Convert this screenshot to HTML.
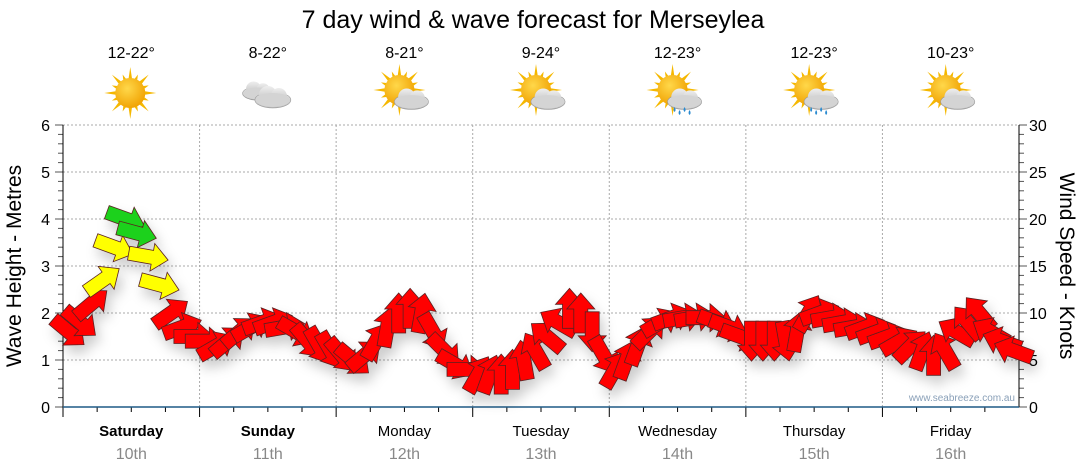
<!DOCTYPE html>
<html><head><meta charset="utf-8">
<style>
html,body{margin:0;padding:0;background:#fff;}
svg{display:block;font-family:"Liberation Sans","DejaVu Sans",sans-serif;}
</style></head>
<body>
<svg id="chart" width="1080" height="475" viewBox="0 0 1080 475" xmlns="http://www.w3.org/2000/svg">
<defs>
<radialGradient id="sunG" cx="0.4" cy="0.35" r="0.7"><stop offset="0" stop-color="#ffd84a"/><stop offset="1" stop-color="#f0a000"/></radialGradient>
<linearGradient id="cloudG" x1="0" y1="0" x2="0" y2="1"><stop offset="0" stop-color="#eeeeee"/><stop offset="1" stop-color="#b8b8b8"/></linearGradient>
<filter id="shadow" x="-50%" y="-50%" width="200%" height="200%"><feDropShadow dx="4" dy="8" stdDeviation="6" flood-color="#000" flood-opacity="0.2"/></filter>
</defs>
<text x="533" y="28" font-size="25" text-anchor="middle" fill="#000">7 day wind &amp; wave forecast for Merseylea</text>
<g id="grid"></g>
<g id="axes"></g>
<g id="icons"></g>
<g id="arrows" filter="url(#shadow)"></g>
<text x="1015" y="401" font-size="10" text-anchor="end" fill="#8aa0b8">www.seabreeze.com.au</text>
<text transform="translate(21,266) rotate(-90)" font-size="21" text-anchor="middle" fill="#000">Wave Height - Metres</text>
<text transform="translate(1060,266) rotate(90)" font-size="21" text-anchor="middle" fill="#000">Wind Speed - Knots</text>
</svg>
<script>
const days = ["Saturday","Sunday","Monday","Tuesday","Wednesday","Thursday","Friday"];
const dates = ["10th","11th","12th","13th","14th","15th","16th"];
const temps = ["12-22°","8-22°","8-21°","9-24°","12-23°","12-23°","10-23°"];
const weather = ["sun","cloud","partly","partly","rain","rain","partly"];
const leftTicks = [0,1,2,3,4,5,6];
const rightTicks = [0,5,10,15,20,25,30];
const windSpeed = [
 8,9,11,13.5,17,20,18.5,16,13,10,8.5,7.5,
 7,6.5,7,8,8.5,9,9,8.5,8,7,6.5,6,
 5.5,5,5.5,7,8.5,10,10.5,10,8,6,4.5,4,
 3.5,3.5,3.5,4,5,6,7.5,9,10.5,10,8,5.5,
 4,5,6.5,8,9,9.5,9.5,9.5,9.5,9,8.5,7.5,
 7,7,7,7,8,10,10,9.5,9,8.5,8.5,8,
 7.5,7,6.5,6,5.5,6,8,9,10,8,7,6
];
const windDir = [
 40,40,-40,-35,20,20,15,10,15,-35,-20,0,
 0,-30,-40,-40,-30,-20,-20,-10,30,50,60,60,
 50,40,-40,-60,-80,-90,-90,-80,60,45,30,0,
 -60,-70,-90,-90,-100,-120,-140,-150,-90,-90,90,60,
 -60,-70,-70,-45,-30,-20,-10,-10,0,20,20,20,
 90,90,90,80,-80,-60,-20,-10,-10,-10,-20,-20,
 -20,-30,-45,-70,-90,-120,-150,-130,-130,-150,-160,-160
];
const NS="http://www.w3.org/2000/svg";
const X0=63, X1=1019, Y0=407, Y1=125;
const dayW=(X1-X0)/7;
const perDay=12;
function xPos(i){return X0+(i+0.5)*dayW/perDay;}
function yM(m){return Y0-(m/6)*(Y0-Y1);}
function yK(k){return Y0-(k/30)*(Y0-Y1);}
function mk(tag,attrs,parent){const e=document.createElementNS(NS,tag);for(const k in attrs)e.setAttribute(k,attrs[k]);parent.appendChild(e);return e;}
const grid=document.getElementById('grid'),axes=document.getElementById('axes'),icons=document.getElementById('icons'),arrows=document.getElementById('arrows');
leftTicks.forEach(t=>{
 if(t>0){const l=mk('line',{x1:X0,x2:X1,y1:yM(t),y2:yM(t),stroke:'#aaa','stroke-dasharray':'2,2'},grid);
 
 }
 const tx=mk('text',{x:50,y:yM(t)+6,'font-size':16,'text-anchor':'end',fill:'#000'},axes);tx.textContent=t;
 
 
});
rightTicks.forEach(t=>{
 const tx=mk('text',{x:1029,y:yK(t)+6,'font-size':16,'text-anchor':'start',fill:'#000'},axes);tx.textContent=t;
 
 
});
for(let i=0;i<=30;i++){
 const yl=Y0-i*(Y0-Y1)/30;
 mk('line',{x1:X0-(i%5==0?8:5),x2:X0,y1:yl,y2:yl,stroke:'#555'},axes);
 mk('line',{x1:X1,x2:X1+(i%5==0?8:5),y1:yl,y2:yl,stroke:'#555'},axes);
}
mk('line',{x1:X0,x2:X0,y1:Y1,y2:Y0,stroke:'#000'},axes);
mk('line',{x1:X1,x2:X1,y1:Y1,y2:Y0,stroke:'#000'},axes);
days.forEach((d,i)=>{
 const xs=X0+i*dayW, xc=xs+dayW/2;
 if(i>0){const v=mk('line',{x1:xs,x2:xs,y1:Y1,y2:Y0,stroke:'#aaa','stroke-dasharray':'2,2'},grid);
 
 }
 for(let q=0;q<4;q++){const tx=xs+q*dayW/4;mk('line',{x1:tx,x2:tx,y1:Y0,y2:Y0+(q==0?10:5),stroke:'#000'},axes);}
 const dl=mk('text',{x:xc,y:436,'font-size':15,'text-anchor':'middle',fill:'#000','font-weight':(i<2?'bold':'normal')},axes);dl.textContent=d;
 
 
 const dt=mk('text',{x:xc,y:459,'font-size':16,'text-anchor':'middle',fill:'#888'},axes);dt.textContent=dates[i];
 
 
 const tt=mk('text',{x:xc,y:58,'font-size':16,'text-anchor':'middle',fill:'#000'},icons);tt.textContent=temps[i];
 
 
 const g=mk('g',{transform:'translate('+(xc-1)+',93)'},icons);
 
 
 const w=weather[i];
 if(w!='cloud'){
  const sx=w=='sun'?0:-4, sy=w=='sun'?0:-3;
  for(let r=0;r<16;r++){const a=r*Math.PI/8, L=r%2?20:26;
   mk('polygon',{points:(sx+Math.cos(a)*L)+','+(sy+Math.sin(a)*L)+' '+(sx+Math.cos(a+0.15)*13)+','+(sy+Math.sin(a+0.15)*13)+' '+(sx+Math.cos(a-0.15)*13)+','+(sy+Math.sin(a-0.15)*13),fill:'#f5b800'},g);}
  mk('circle',{cx:sx,cy:sy,r:15,fill:'url(#sunG)'},g);
 }
 function cloud(cx,cy,s){
  mk('ellipse',{cx:cx,cy:cy+4*s,rx:18*s,ry:8*s,fill:'url(#cloudG)',stroke:'#999','stroke-width':0.6},g);
  mk('circle',{cx:cx-5*s,cy:cy-1*s,r:9*s,fill:'url(#cloudG)'},g);
  mk('circle',{cx:cx+6*s,cy:cy,r:8*s,fill:'url(#cloudG)'},g);
  mk('ellipse',{cx:cx,cy:cy+4*s,rx:17*s,ry:7*s,fill:'#d4d4d4'},g);
 }
 if(w=='cloud'){cloud(-9,-3,0.85);cloud(6,3,1);}
 else if(w!='sun'){cloud(8,5,0.95);}
 if(w=='rain'){for(let k=0;k<4;k++){mk('path',{d:'M'+(k*5-2)+','+(14+(k%2)*3)+' q-2,3 0,5 q2,-2 0,-5',fill:'#2a8ad0'},g);}}
});
mk('line',{x1:X0,x2:X1,y1:Y0,y2:Y0,stroke:'#1f5a85','stroke-width':1.5},axes);
function color(k){return k>=18.5?'#1ed11e':(k>=12.5?'#ffff00':'#ff0000');}
windSpeed.forEach((k,i)=>{
 const x=xPos(i), y=yK(k);
 const p=mk('polygon',{points:'-20,-7 4,-7 4,-14 20,0 4,14 4,7 -20,7',fill:color(k),stroke:'#5a2020','stroke-width':0.8,transform:'translate('+x.toFixed(1)+','+y.toFixed(1)+') rotate('+windDir[i]+')'},arrows);
 
 
});
</script>
</body></html>
